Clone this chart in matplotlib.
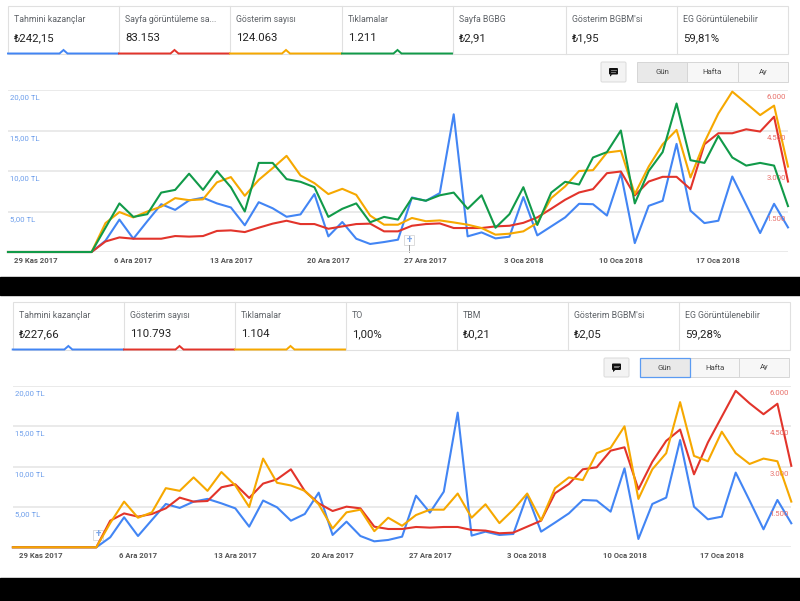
import matplotlib.pyplot as plt
from matplotlib.patches import Rectangle, FancyBboxPatch, Polygon

plt.rcParams['font.family'] = ['Roboto', 'DejaVu Sans']

W, H = 800, 601

# 27 Kas 2017 .. 22 Oca 2018, one point per day
n_days = 57
tick_idx = [2, 9, 16, 23, 30, 37, 44, 51]
tick_labels = ["29 Kas 2017", "6 Ara 2017", "13 Ara 2017", "20 Ara 2017",
               "27 Ara 2017", "3 Oca 2018", "10 Oca 2018", "17 Oca 2018"]
tl_ticks = [5, 10, 15, 20]
tl_labels = ["5,00 TL", "10,00 TL", "15,00 TL", "20,00 TL"]
cnt_ticks = [1500, 3000, 4500, 6000]
cnt_labels = ["1.500", "3.000", "4.500", "6.000"]

# ---- top screenshot ----
top_cards = [("Tahmini kazançlar", "₺242,15"), ("Sayfa görüntüleme sa...", "83.153"),
             ("Gösterim sayısı", "124.063"), ("Tıklamalar", "1.211"),
             ("Sayfa BGBG", "₺2,91"), ("Gösterim BGBM'si", "₺1,95"),
             ("EG Görüntülenebilir", "59,81%")]

top_earn = [0]*7 + [1.4, 4.0, 1.64, 3.8, 5.9, 5.2, 6.37, 6.7, 6.0, 5.5, 3.3, 6.15, 5.4, 4.35,
                    4.64, 7.15, 1.93, 3.7, 1.64, 0.99, 1.23, 1.52, 6.73, 6.32, 7.27, 17.0, 1.93,
                    2.42, 1.68, 1.89, 6.78, 2.05, 3.16, 4.27, 5.95, 5.9, 4.5, 9.73, 1.1, 5.7,
                    6.32, 13.35, 5.1, 3.57, 3.86, 9.32, 5.83, 2.34, 5.95, 3.04]
top_pageviews = [0]*7 + [390, 540, 492, 492, 492, 591, 570, 591, 780, 801, 738, 900, 1050,
                         1158, 1035, 1035, 861, 948, 1035, 1050, 765, 765, 972, 1035, 1059, 888,
                         888, 888, 948, 972, 1080, 1281, 1602, 1935, 2205, 2328, 2919, 2982,
                         2094, 2610, 2784, 2784, 2328, 3990, 4398, 4398, 4545, 4461, 5010, 2610]
top_impr = [0]*7 + [1071, 1479, 1281, 1500, 1680, 1995, 1920, 1950, 2580, 2775, 2082, 2670,
                    3105, 3561, 2835, 2550, 2145, 2340, 2118, 1350, 1011, 1011, 1260, 1140, 1170,
                    1095, 1011, 888, 642, 678, 765, 1080, 1995, 2430, 3000, 3030, 3684, 3750,
                    2145, 3165, 3990, 4521, 2760, 4065, 5130, 5940, 5508, 5070, 5421, 3165]
top_clicks = [0]*7 + [9, 18, 13, 14, 22, 23, 29, 23, 30, 24, 15, 33, 33, 27, 26, 24, 13, 16,
                      18, 11, 13, 12, 20, 19, 21, 22, 16, 21, 9, 14, 24, 10, 22, 26, 25, 35, 37,
                      45, 18, 30, 37, 55, 34, 33, 43, 35, 32, 33, 32, 17]

# ---- bottom screenshot ----
bot_cards = [("Tahmini kazançlar", "₺227,66"), ("Gösterim sayısı", "110.793"),
             ("Tıklamalar", "1.104"), ("TO", "1,00%"), ("TBM", "₺0,21"),
             ("Gösterim BGBM'si", "₺2,05"), ("EG Görüntülenebilir", "59,28%")]

bot_earn = [0]*7 + [1.24, 3.72, 1.4, 3.39, 5.37, 4.88, 5.66, 6.0, 5.45, 4.83, 2.56, 5.8, 4.96,
                    3.3, 4.13, 6.78, 1.53, 3.18, 1.4, 0.74, 0.91, 1.32, 6.4, 4.3, 6.9, 16.7,
                    1.45, 1.94, 1.53, 1.65, 6.5, 1.94, 3.06, 4.21, 5.87, 5.79, 4.42, 9.79, 1.03,
                    5.37, 6.16, 13.3, 5.04, 3.47, 3.8, 9.26, 5.79, 2.23, 5.87, 2.98]
bot_impr = [0]*7 + [990, 1260, 1140, 1239, 1449, 1848, 1698, 1722, 2232, 2343, 1836, 2370,
                    2529, 2901, 2094, 1635, 1350, 1512, 1449, 768, 681, 681, 756, 732, 756, 756,
                    645, 621, 522, 546, 768, 990, 2010, 2355, 2901, 2976, 3594, 3720, 2157,
                    3180, 3960, 4380, 2715, 3900, 4860, 5820, 5355, 4950, 5340, 3030]
bot_clicks = [0]*7 + [9, 17, 11, 13, 22, 21, 26, 21, 28, 23, 15, 33, 24, 23, 21, 16, 7, 13,
                      14, 6, 11, 8, 12, 14, 14, 20, 11, 16, 9, 14, 20, 10, 22, 26, 25, 35, 37,
                      45, 18, 29, 35, 54, 34, 32, 43, 35, 31, 33, 32, 17]

BLUE, RED, ORANGE, GREEN = '#4285f4', '#e2342b', '#f6a800', '#119a49'
GRID = '#e8e8e8'

fig = plt.figure(figsize=(8, 6.01), dpi=100)
bg = fig.add_axes([0, 0, 1, 1])
bg.set_xlim(0, W)
bg.set_ylim(H, 0)
bg.axis('off')

# black bands between and under the screenshots
bg.add_patch(Rectangle((0, 277), W, 18, color='black'))
bg.add_patch(Rectangle((0, 578), W, 23, color='black'))


def cards(edges, y0, y1, items, colors):
    bg.add_patch(Rectangle((edges[0], y0), edges[-1] - edges[0], y1 - y0,
                           fill=False, ec='#e0e0e0', lw=0.8))
    for k, (title, val) in enumerate(items):
        x0, x1 = edges[k], edges[k + 1]
        if k > 0:
            bg.plot([x0, x0], [y0, y1], color='#e0e0e0', lw=0.8)
        th = y0 + (y1 - y0) * 0.29
        bg.text(x0 + 6, th, title, fontsize=6.3, color='#5f6368', va='center')
        bg.text(x0 + 6, y0 + (y1 - y0) * 0.67, val, fontsize=8.2, color='#222222', va='center')
        if k < len(colors):
            cx = (x0 + x1) / 2
            yl = y1 - 0.5
            bg.plot([x0, cx - 4, cx, cx + 4, x1], [yl, yl, yl - 3.5, yl, yl],
                    color=colors[k], lw=1.4, solid_joinstyle='miter')


def buttons(cx0, bx0, y0, y1, w_btn, focus):
    bg.add_patch(FancyBboxPatch((cx0, y0), 25, y1 - y0, boxstyle='round,pad=0,rounding_size=1.5',
                                fc='#f3f3f3', ec='#dddddd', lw=0.8))
    mx, my = cx0 + 12.5, (y0 + y1) / 2
    bg.add_patch(FancyBboxPatch((mx - 4.5, my - 4), 9, 6.5, boxstyle='round,pad=0,rounding_size=1',
                                fc='#111111', ec='none'))
    bg.add_patch(Polygon([[mx - 3.5, my + 2.3], [mx - 1, my + 2.3], [mx - 3.5, my + 4.6]],
                         closed=True, fc='#111111', ec='none'))
    bg.plot([mx - 2.5, mx + 2.5], [my - 1.8, my - 1.8], color='#888888', lw=0.6)
    bg.plot([mx - 2.5, mx + 1.5], [my - 0.2, my - 0.2], color='#888888', lw=0.6)
    for k, lab in enumerate(["Gün", "Hafta", "Ay"]):
        x = bx0 + k * w_btn
        fc = '#e9e9e9' if k == 0 else '#f7f7f7'
        ec = '#5b9bf2' if (k == 0 and focus) else '#d6d6d6'
        bg.add_patch(Rectangle((x, y0), w_btn, y1 - y0, fc=fc, ec=ec, lw=0.9 if focus and k == 0 else 0.7,
                               zorder=3 if k == 0 else 2))
        bg.text(x + w_btn / 2, (y0 + y1) / 2, lab, fontsize=5.6, color='#444444',
                ha='center', va='center', zorder=4)


def plus_marker(x, y, stem):
    bg.add_patch(Rectangle((x - 5, y - 5), 10, 10, fc='white', ec='#dcdcdc', lw=0.7, zorder=5))
    bg.text(x, y, "+", fontsize=7, color='#7ea6e6', ha='center', va='center',
            fontweight='bold', zorder=6)
    if stem:
        bg.plot([x, x], [y + 5, y + 12], color='#999999', lw=0.7, zorder=5)


def chart(left, right, ybase, ytop, earn, mids, mid_colors, clicks, click_color):
    rect = [left / W, (H - ybase) / H, (right - left) / W, (ybase - ytop) / H]
    xs = list(range(n_days))
    ax = fig.add_axes(rect)
    ax.set_xlim(0, n_days - 1)
    ax.set_ylim(0, 20)
    ax.axis('off')
    for g in [0] + tl_ticks:
        ax.axhline(g, color=GRID, lw=1.3, zorder=0)
    for v, lab in zip(tl_ticks, tl_labels):
        ax.annotate(lab, xy=(0, v), xycoords=('axes fraction', 'data'), xytext=(1.5, -3),
                    textcoords='offset points', ha='left', va='top', fontsize=5.6, color='#6d9eeb')
    for i, lab in zip(tick_idx, tick_labels):
        ax.annotate(lab, xy=(i, 0), xytext=(0, -3.3), textcoords='offset points',
                    ha='center', va='top', fontsize=5.6, fontweight='bold', color='#555555')
    ax.plot(xs, earn, color=BLUE, lw=1.5, clip_on=False)

    axr = ax.twinx()
    axr.set_ylim(0, 6000)
    axr.axis('off')
    for vals, c in zip(mids, mid_colors):
        axr.plot(xs, vals, color=c, lw=1.5, clip_on=False)
    for v, lab in zip(cnt_ticks, cnt_labels):
        axr.annotate(lab, xy=(1, v), xycoords=('axes fraction', 'data'), xytext=(-1.5, -3),
                     textcoords='offset points', ha='right', va='top', fontsize=5.6,
                     color='#e8716b')

    axc = ax.twinx()
    axc.set_ylim(0, 60)
    axc.axis('off')
    axc.plot(xs, clicks, color=click_color, lw=1.5, clip_on=False)


# top screenshot
cards([8, 119, 230, 342, 453, 566, 677, 788], 6, 54, top_cards, [BLUE, RED, ORANGE, GREEN])
buttons(601, 637, 62, 82, 50.3, False)
chart(8, 788, 252, 90, top_earn, [top_pageviews, top_impr], [RED, ORANGE], top_clicks, GREEN)
plus_marker(409, 240, True)

# bottom screenshot
cards([12.7, 124, 235, 346, 457, 568, 679, 790], 301.7, 350, bot_cards, [BLUE, RED, ORANGE])
buttons(604, 640, 358, 377, 49.7, True)
chart(12.9, 791.3, 547.3, 386, bot_earn, [bot_impr], [RED], bot_clicks, ORANGE)
plus_marker(98, 534.5, False)

fig.savefig('out.png', dpi=100, facecolor='white')
